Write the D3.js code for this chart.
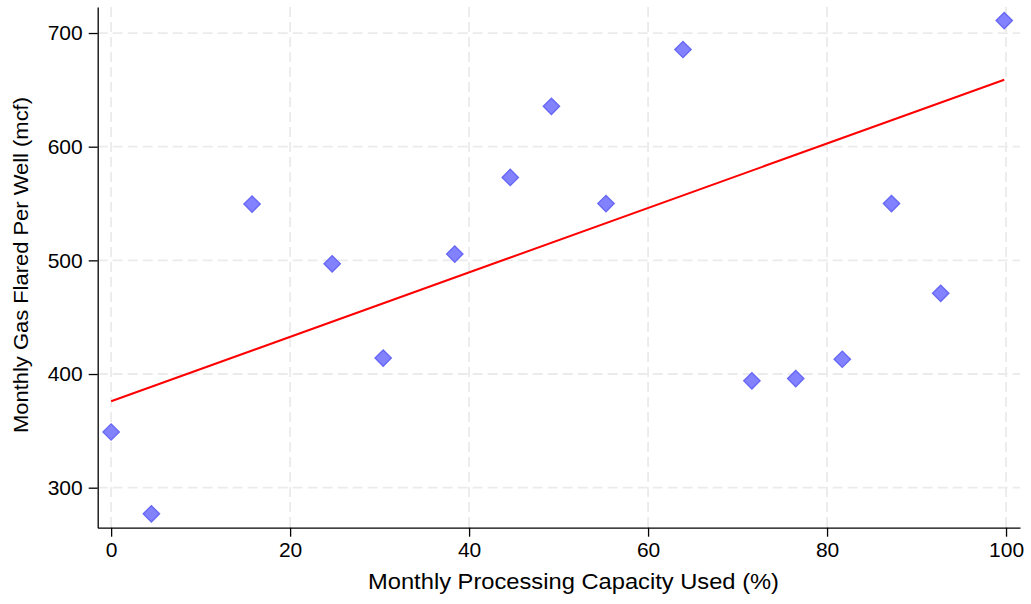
<!DOCTYPE html>
<html><head><meta charset="utf-8">
<script src="https://cdn.jsdelivr.net/npm/d3@7"></script>
<style>body{margin:0;background:#fff}svg{display:block}text{font-family:"Liberation Sans",Arial,sans-serif}</style>
</head><body>
<svg id="c" width="1031" height="604"></svg>
<script>
const capacityUsed = [0, 4.5, 15.75, 24.7, 30.4, 38.4, 44.6, 49.2, 55.3, 63.9, 71.6, 76.5, 81.7, 87.2, 92.7, 99.8];
const gasFlared = [349, 277, 549.5, 497, 414, 505.5, 573, 635.5, 550, 685.5, 394, 396, 413, 550, 471, 711];
const fitIntercept = 376;
const fitSlope = 2.835;
const fitRange = [0, 99.8];
const xTicks = [0, 20, 40, 60, 80, 100];
const yTicks = [300, 400, 500, 600, 700];

const svg = d3.select("#c");
const L = 97.7, R = 1020, T = 7, B = 527.7;
const x = d3.scaleLinear().domain([-1.5, 101.56]).range([L, R]);
const y = d3.scaleLinear().domain([264.8, 722.9]).range([B, T]);

// grid
const g = svg.append("g");
g.selectAll(".gx").data(xTicks).join("line")
  .attr("x1", d => x(d)).attr("x2", d => x(d)).attr("y1", T).attr("y2", B)
  .attr("stroke", "#ebebeb").attr("stroke-width", 1.8).attr("stroke-dasharray", "10,5");
g.selectAll(".gy").data(yTicks).join("line")
  .attr("x1", L).attr("x2", R).attr("y1", d => y(d)).attr("y2", d => y(d))
  .attr("stroke", "#ebebeb").attr("stroke-width", 1.8).attr("stroke-dasharray", "10,5");

// axes
const xAxis = svg.append("g").attr("transform", `translate(0,${B})`)
  .call(d3.axisBottom(x).tickValues(xTicks).tickSize(9).tickPadding(5).tickSizeOuter(0));
const yAxis = svg.append("g").attr("transform", `translate(${L},0)`)
  .call(d3.axisLeft(y).tickValues(yTicks).tickSize(9).tickPadding(6).tickSizeOuter(0));
[xAxis, yAxis].forEach(a => {
  a.select(".domain").attr("stroke", "#000").attr("stroke-width", 1.3);
  a.selectAll(".tick line").attr("stroke", "#000").attr("stroke-width", 1.3);
  a.selectAll(".tick text").attr("fill", "#000").style("font-size", "21px")
    .style("font-family", '"Liberation Sans",Arial,sans-serif');
});

// fit line
svg.append("line")
  .attr("x1", x(fitRange[0])).attr("y1", y(fitIntercept + fitSlope * fitRange[0]))
  .attr("x2", x(fitRange[1])).attr("y2", y(fitIntercept + fitSlope * fitRange[1]))
  .attr("stroke", "#ff0000").attr("stroke-width", 2);

// points
const pts = capacityUsed.map((c, i) => ({ c, v: gasFlared[i] }));
const sym = d3.symbol().type(d3.symbolSquare).size(132);
svg.selectAll(".pt").data(pts).join("path")
  .attr("d", sym)
  .attr("transform", d => `translate(${x(d.c)},${y(d.v)}) rotate(45)`)
  .attr("fill", "#8282ff").attr("stroke", "#6868f5").attr("stroke-width", 1.4);

// titles
svg.append("text").attr("x", 573.5).attr("y", 589).attr("text-anchor", "middle")
  .attr("textLength", 411).attr("lengthAdjust", "spacingAndGlyphs")
  .style("font-size", "22.5px").attr("fill", "#000").text("Monthly Processing Capacity Used (%)");
svg.append("text").attr("transform", `translate(28,265) rotate(-90)`).attr("text-anchor", "middle")
  .attr("textLength", 336).attr("lengthAdjust", "spacingAndGlyphs")
  .style("font-size", "20.5px").attr("fill", "#000").text("Monthly Gas Flared Per Well (mcf)");
</script>
</body></html>
